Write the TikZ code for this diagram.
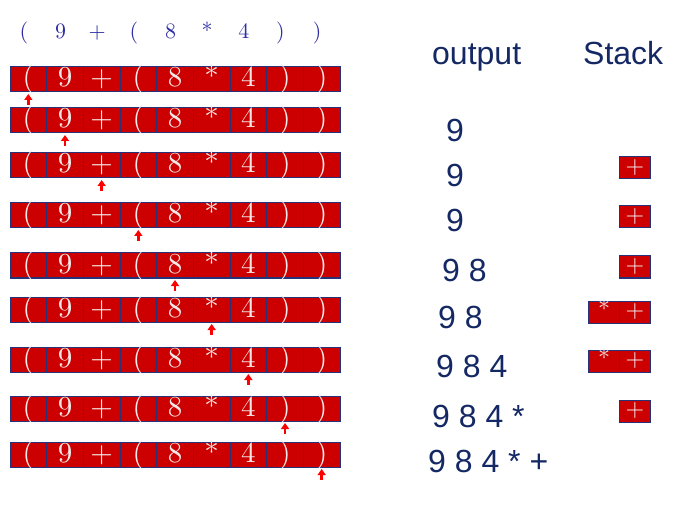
\documentclass[tikz,border=0pt]{standalone}
\usepackage{fontspec}
\newfontfamily\outfont{Liberation Sans}
\newfontfamily\tokfont{lmroman10-regular}[Extension=.otf]
\usetikzlibrary{positioning,arrows.meta}

\definecolor{cellred}{RGB}{204,0,0}
\definecolor{edgeblue}{RGB}{40,50,120}
\definecolor{exprblue}{RGB}{45,45,165}
\definecolor{navy}{RGB}{20,40,100}
\definecolor{ptrred}{RGB}{255,0,0}
\definecolor{chalk}{RGB}{245,232,232}
\newcommand\parL{(}
\newcommand\parR{)}

\begin{document}
\begin{tikzpicture}[x=1pt, y=-1pt,
  cell/.style={draw=edgeblue, fill=cellred, line width=1pt, inner sep=0pt,
               minimum width=36.67pt, text height=20pt, text depth=5pt,
               text=chalk, font=\tokfont\fontsize{29}{29}\selectfont},
  stk/.style={draw=edgeblue, fill=cellred, line width=1pt, inner sep=0pt,
              minimum width=31pt, text height=16.5pt, text depth=5.5pt,
              text=chalk, font=\tokfont\fontsize{24}{24}\selectfont},
  expr/.style={anchor=base, text=exprblue, inner sep=0pt,
               font=\tokfont\fontsize{22}{22}\selectfont},
  ptr/.style={-{Triangle[width=8pt,length=6pt]}, ptrred, line width=2.4pt,
              shorten >=1.5pt},
  outtxt/.style={anchor=base west, inner sep=0pt, text=navy,
                 font=\outfont\fontsize{32}{32}\selectfont}
]
\useasboundingbox (0,0) rectangle (699,505);

% the expression as it is read
\foreach \ch [count=\i] in {\parL,9,+,\parL,8,*,4,\parR,\parR}
  \node[expr] (e-\i) at ({5.5+36.67*(\i-0.5)}, 39) {\ch};

% one row of cells per step, with the pointer under the current token
\foreach \y [count=\r] in {67,108,153,203,253,297,347,396,442} {
  \foreach \ch [count=\i] in {\parL,9,+,\parL,8,*,4,\parR,\parR}
    \node[cell] (c-\r-\i) at ({10+36.67*(\i-0.5)}, \y+12.5) {\ch};
  \coordinate (t-\r) at ({10+36.67*(\r-0.5)}, \y+38);
  \draw[ptr] (t-\r) -- (c-\r-\r.south);
}

\node[outtxt] (hout) at (432,65) {output};
\node[outtxt] (hstk) at (583,65) {Stack};

% output so far
\foreach \r/\x/\b/\txt in {2/446/142/9, 3/446/187/9, 4/446/232/9,
    5/442/282/9 8, 6/438/328/9 8, 7/436/377/9 8 4,
    8/432/427/9 8 4 *, 9/428/472/9 8 4 * +}
  \node[outtxt] (o-\r) at (\x,\b) {\txt};

% operator stack
\foreach \r/\yc in {3/168,4/217,5/267,6/312,7/361,8/411}
  \node[stk] (s-\r) at (635,\yc) {+};
\node[stk, left=-1pt of s-6] (s-6b) {*};
\node[stk, left=-1pt of s-7] (s-7b) {*};

\end{tikzpicture}
\end{document}
